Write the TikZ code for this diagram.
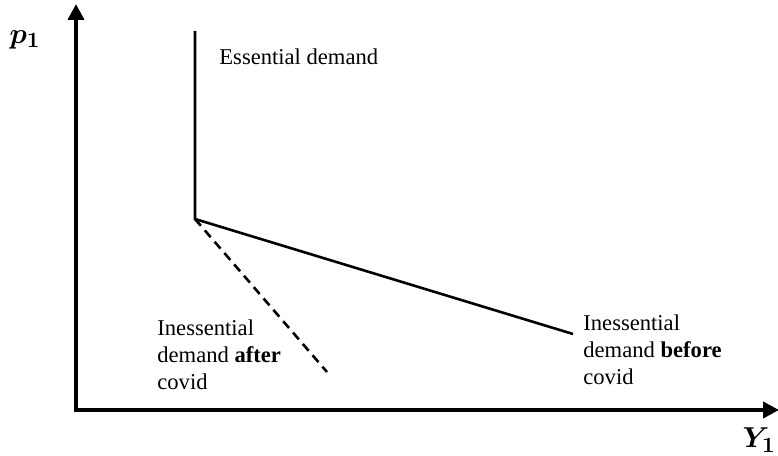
\documentclass[tikz,border=0pt]{standalone}
\usepackage{amsmath}
\usepackage{bm}
\usepackage{fontspec}
\setmainfont{Liberation Serif}
\usetikzlibrary{arrows.meta}

\begin{document}
\begin{tikzpicture}[x=0.5pt,y=0.5pt,
	axis/.style={line width=2pt,-{Triangle[length=8pt,width=8pt]}},
	curve/.style={line width=1.3pt},
	var/.style={font=\fontsize{15}{18}\selectfont,inner sep=0pt},
	lbl/.style={font=\fontsize{11.3}{13.5}\selectfont,align=left,inner sep=0pt}]
				\useasboundingbox (0,0) rectangle (778,456);
				\coordinate (O) at (76,46);
				\coordinate (ytip) at (76,452);
				\coordinate (xtip) at (779,46);
				\coordinate (top) at (195,425);
				\coordinate (kink) at (195,237);
				\coordinate (before) at (573,122);
				\coordinate (after) at (327,84);
				\draw[axis] ([yshift=-1pt]O) -- (ytip);
				\draw[axis] ([xshift=-1pt]O) -- (xtip);
				\node[var] (p) at (25,416) {$\bm{p_1}$};
				\node[var,anchor=east] (y) at (776,16) {$\bm{Y_1}$};
				\draw[curve] (top) -- (kink) -- (before);
				\draw[curve,dash pattern=on 4.5pt off 3pt] (kink) -- (after);
				\node[lbl,anchor=west] (ess) at (219,399) {Essential demand};
				\node[lbl,anchor=north west] (ina) at (157,137) {Inessential\\demand \textbf{after}\\covid};
				\node[lbl,anchor=north west] (inb) at (583,142) {Inessential\\demand \textbf{before}\\covid};
			\end{tikzpicture}
\end{document}
